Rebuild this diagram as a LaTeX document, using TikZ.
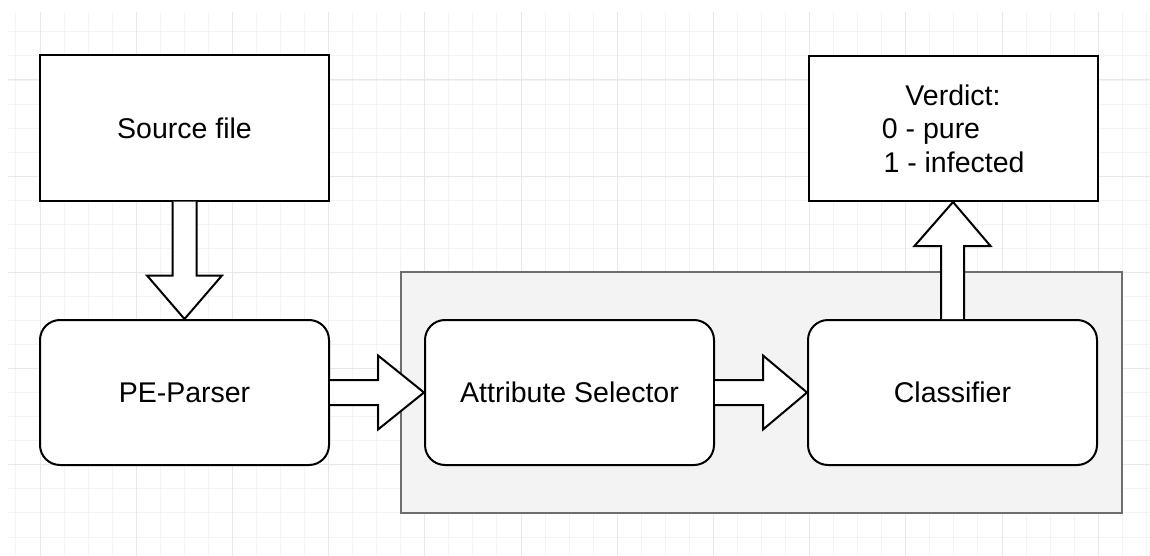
\documentclass[tikz,border=0pt]{standalone}
\usepackage{fontspec}
\setmainfont{Liberation Sans}
\usetikzlibrary{calc}
\definecolor{gridminor}{HTML}{F4F4F4}
\definecolor{gridmajor}{HTML}{E8E8E8}
\definecolor{groupfill}{HTML}{F3F3F3}
\definecolor{groupline}{HTML}{6E6E6E}
\tikzset{
  box/.style={draw=black, line width=2pt, fill=white, minimum width=289pt, minimum height=145pt,
    inner sep=0pt, font=\fontsize{28.5}{34}\selectfont, align=center},
  roundbox/.style={box, rounded corners=20pt},
  blockarrow/.style={draw=black, line width=2pt, fill=white, line join=miter},
  group/.style={draw=groupline, line width=1.6pt, fill=groupfill},
  minorline/.style={draw=gridminor, line width=1pt},
  majorline/.style={draw=gridmajor, line width=1pt},
}
\begin{document}
\begin{tikzpicture}[x=1pt, y=-1pt]
\useasboundingbox (0,0) rectangle (1150,556);
% grid
\begin{scope}
\clip (8,12) rectangle (1150,556);
\foreach \i in {0,...,47} \draw[minorline] ({15.95+24.05*\i},12) -- ({15.95+24.05*\i},556);
\foreach \j in {0,...,22} \draw[minorline] (8,{31.95+24.05*\j}) -- (1150,{31.95+24.05*\j});
\foreach \i in {0,...,11} \draw[majorline] ({40+96.2*\i},12) -- ({40+96.2*\i},556);
\foreach \j in {0,...,4} \draw[majorline] (8,{80+96.2*\j}) -- (1150,{80+96.2*\j});
\end{scope}
% group container
\node[group, minimum width=721pt, minimum height=241pt, inner sep=0pt] (grp) at (761.5,392.5) {};
% nodes
\node[box] (src) at (184.5,128) {Source file};
\node[roundbox] (pe) at (184.5,392.5) {PE-Parser};
\node[roundbox] (as) at (569.5,392.5) {Attribute Selector};
\node[roundbox] (cl) at (952.5,392.5) {Classifier};
\node[box] (ver) at (953,128.5) {};
\node[font=\fontsize{28.5}{33.5}\selectfont, align=center, inner sep=0pt] (vertext) at (ver.center)
  {Verdict:\\0 - pure\rule{44pt}{0pt}\\\rule{2pt}{0pt}1 - infected};
% block arrows
\draw[blockarrow] ($(src.south)+(-12,0)$) -- ($(src.south)+(-12,74)$) -- ($(src.south)+(-37.5,74)$)
  -- (pe.north) -- ($(src.south)+(37.5,74)$) -- ($(src.south)+(12,74)$) -- ($(src.south)+(12,0)$);
\draw[blockarrow] ($(pe.east)+(0,-12.5)$) -- ($(pe.east)+(48,-12.5)$) -- ($(pe.east)+(48,-37)$)
  -- (as.west) -- ($(pe.east)+(48,37)$) -- ($(pe.east)+(48,12.5)$) -- ($(pe.east)+(0,12.5)$);
\draw[blockarrow] ($(as.east)+(0,-12.5)$) -- ($(as.east)+(48,-12.5)$) -- ($(as.east)+(48,-37)$)
  -- (cl.west) -- ($(as.east)+(48,37)$) -- ($(as.east)+(48,12.5)$) -- ($(as.east)+(0,12.5)$);
\draw[blockarrow] ($(cl.north)+(-11.5,0)$) -- ($(cl.north)+(-11.5,-73)$) -- ($(cl.north)+(-38,-73)$)
  -- (ver.south) -- ($(cl.north)+(38,-73)$) -- ($(cl.north)+(11.5,-73)$) -- ($(cl.north)+(11.5,0)$);
\end{tikzpicture}
\end{document}
